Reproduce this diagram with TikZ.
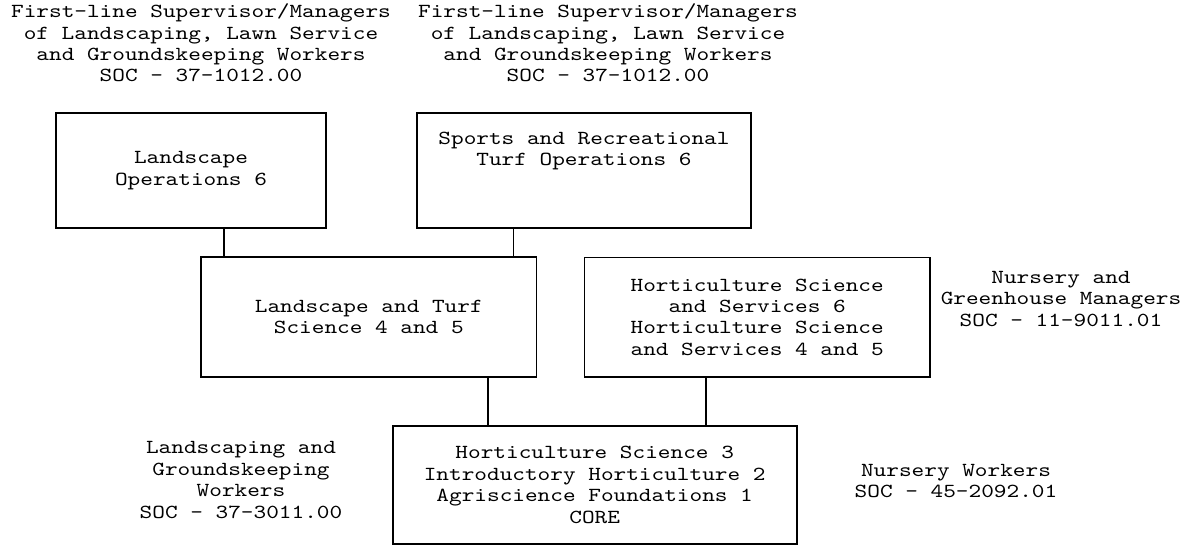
\documentclass[tikz,border=0pt]{standalone}
\usepackage{fontspec}
\newfontfamily\labelfont{lmmono10-regular.otf}[FakeStretch=1.21]
\begin{document}
\begin{tikzpicture}[x=1bp,y=-1bp,
  every node/.style={font=\labelfont\fontsize{20}{21.5}\selectfont, align=center, inner sep=0pt},
  box/.style={draw=black, line width=1.6bp, fill=white},
  link/.style={draw=black, line width=1.6bp}]
\useasboundingbox[fill=white] (0,0) rectangle (1199,546);
% labels
\node (t1) at (201,43) {First-line Supervisor/Managers\\of Landscaping, Lawn Service\\and Groundskeeping Workers\\SOC – 37-1012.00};
\node (t2) at (608,43) {First-line Supervisor/Managers\\of Landscaping, Lawn Service\\and Groundskeeping Workers\\SOC – 37-1012.00};
\node (ng) at (1061,299) {Nursery and\\Greenhouse Managers\\SOC – 11-9011.01};
\node (lw) at (241,480) {Landscaping and\\Groundskeeping\\Workers\\SOC – 37-3011.00};
\node (nw) at (956,481) {Nursery Workers\\SOC – 45-2092.01};
% boxes
\node[box, minimum width=270bp, minimum height=115bp] (lo) at (191,170.5) {Landscape\\Operations 6};
\node[box, minimum width=334bp, minimum height=115bp] (sp) at (584,170.5) {Sports and Recreational\\Turf Operations 6\\~\\~};
\node[box, minimum width=335.7bp, minimum height=119.4bp] (lt) at (368.8,317) {Landscape and Turf\\Science 4 and 5};
\node[box, minimum width=345.7bp, minimum height=119.2bp] (hs) at (757.2,317.1) {Horticulture Science\\and Services 6\\Horticulture Science\\and Services 4 and 5};
\node[box, minimum width=404bp, minimum height=118.3bp] (core) at (594.7,484.9) {Horticulture Science 3\\Introductory Horticulture 2\\Agriscience Foundations 1\\CORE};
% connectors
\draw[link] ([xshift=24bp]lt.north west) -- ([xshift=24bp]lt.north west |- lo.south);
\draw[link] ([xshift=-24bp]lt.north east) -- ([xshift=-24bp]lt.north east |- sp.south);
\draw[link] ([xshift=96.3bp]core.north west) -- ([xshift=96.3bp]core.north west |- lt.south);
\draw[link] ([xshift=-91.7bp]core.north east) -- ([xshift=-91.7bp]core.north east |- hs.south);
\end{tikzpicture}
\end{document}
